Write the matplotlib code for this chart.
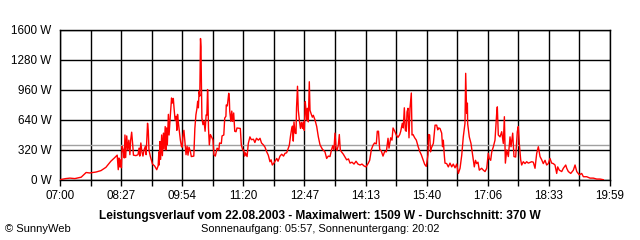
import numpy as np
import matplotlib
matplotlib.use("Agg")
import matplotlib.pyplot as plt

plt.rcParams['font.family'] = ['Liberation Sans', 'DejaVu Sans']

# minutes after 07:00
minutes = [1, 8, 14, 21, 30, 37, 42, 51, 58, 65,
           72, 77, 81, 82.5, 83.5, 84.5, 85.5, 87, 88, 89.5,
           91, 92, 93, 94.5, 96, 97.5, 99, 100, 101.5, 103,
           104, 107.5, 110.5, 112, 113, 114.5, 116, 117.5, 119, 121,
           122, 124, 125, 126, 128, 131, 134, 137, 139, 140,
           140.5, 141.5, 142.5, 144, 145, 146.5, 147.5, 149, 150, 151,
           152, 153.5, 154.5, 156, 158, 159, 160.5, 161.5, 163, 164.5,
           165.5, 166.5, 167.5, 169, 170.5, 172, 173, 174, 175.5, 177,
           178.5, 180, 181.3, 182.7, 184.5, 186, 189.5, 191, 192.5, 194,
           195, 196, 197, 198, 199, 199.7, 200.2, 201, 202.5, 204,
           205.5, 207, 208, 209, 209.6, 210.3, 211.5, 213, 215.3, 216.7,
           218, 220, 222.5, 225, 226, 228.5, 229.5, 232, 233.3, 235,
           235.5, 237, 239, 239.8, 240.4, 242, 243.3, 244.5, 246, 247.5,
           249.3, 250.7, 255.4, 256.8, 258.8, 260.2, 261.5, 262.7, 265, 266.7,
           269, 271, 274, 276, 278.3, 281, 283.3, 285.4, 288, 290.4,
           292.8, 295, 297.4, 299, 300.7, 303, 307, 308.8, 311.6, 314,
           316.6, 318.7, 321, 323.4, 324.8, 326.5, 328.2, 329.3, 330.4, 331.4,
           333, 334.3, 335, 336.4, 337.5, 339, 340.6, 342, 343.5, 344.6,
           346, 347.4, 348.4, 349.4, 350.3, 351.7, 353.1, 354.1, 355.5, 357.4,
           358.8, 361.2, 363.6, 365.9, 368.3, 371.5, 375.3, 377.7, 380, 382.4,
           384.5, 386.3, 388, 389.5, 391, 392.3, 394.2, 395.6, 397, 398.7,
           401.3, 403.7, 406, 408.6, 410.8, 413.6, 416.4, 419.3, 422, 425,
           427.7, 430.6, 433.4, 436.7, 438.6, 441, 443.3, 445.5, 448, 449.4,
           451.1, 452.8, 455, 457.5, 459.9, 462.2, 464.6, 466, 468.4, 470.2,
           471.7, 474.1, 476.3, 478.7, 481.2, 482.6, 484.8, 486.2, 487.7, 489.1,
           490.5, 491.5, 492.9, 494.3, 495.7, 497.6, 498.6, 500, 502.4, 504.7,
           507.1, 509.5, 511.7, 514.2, 516.6, 518.8, 521.2, 522, 523.6, 524.8,
           525.9, 528.8, 531.2, 533.5, 535, 536.1, 538.2, 540.6, 541.8, 542.9,
           544.3, 545.3, 547.7, 550, 552.4, 554.8, 557, 559.5, 561.9, 564.2,
           566.6, 569, 571.2, 573.6, 574.6, 575.5, 576, 577, 577.4, 579.7,
           582.1, 584.5, 586.8, 588.5, 590.2, 592, 593.9, 597.2, 599.6, 602,
           604.4, 606.6, 608, 610, 611.5, 613.8, 616.1, 618.5, 619.4, 620.8,
           623.2, 625.6, 627.9, 629.4, 630.8, 632.7, 635, 637.4, 638.8, 641.2,
           643, 645.4, 647.7, 649.1, 650.5, 652.5, 653.9, 656.2, 658.6, 661,
           663.3, 668.1, 670.4, 672.8, 675.2, 677.5, 679.9, 682.3, 684.5, 687,
           689.3, 691.6, 694, 696.4, 698.7, 701.1, 703.5, 704.9, 707.2, 710.6,
           712.9, 716.3, 717.7, 720, 723.4, 727.1, 729.5, 731.9, 735.5, 738.9,
           741.3, 746, 750.7, 755.4, 760.2, 764.9, 769.5]

watts = [5, 15, 20, 15, 30, 80, 75, 85, 100, 135,
         200, 235, 265, 110, 235, 140, 215, 130, 360, 320,
         235, 480, 240, 470, 320, 425, 270, 420, 510, 375,
         265, 260, 270, 340, 255, 395, 300, 255, 320, 360,
         270, 605, 530, 320, 250, 170, 150, 110, 150, 300,
         160, 410, 220, 480, 260, 500, 330, 570, 320, 555,
         375, 700, 480, 660, 875, 820, 870, 770, 640, 680,
         530, 700, 620, 520, 425, 360, 350, 460, 530, 400,
         270, 360, 265, 350, 310, 250, 255, 550, 695, 765,
         840, 770, 945, 895, 1509, 1420, 1085, 660, 590, 630,
         520, 695, 690, 965, 850, 555, 375, 485, 450, 425,
         270, 255, 340, 320, 395, 390, 470, 480, 660, 680,
         800, 790, 925, 875, 735, 625, 735, 625, 715, 520,
         515, 555, 550, 375, 320, 320, 255, 290, 250, 390,
         460, 430, 435, 400, 445, 425, 445, 395, 375, 350,
         300, 265, 195, 215, 160, 180, 230, 200, 255, 275,
         255, 285, 290, 340, 370, 470, 550, 575, 415, 620,
         500, 495, 770, 1000, 745, 640, 550, 615, 550, 620,
         530, 835, 745, 640, 765, 620, 1048, 745, 710, 670,
         690, 640, 570, 460, 375, 330, 300, 230, 255, 250,
         320, 365, 320, 500, 340, 315, 370, 485, 320, 300,
         275, 245, 215, 225, 180, 190, 170, 200, 170, 160,
         170, 150, 140, 180, 210, 325, 370, 395, 385, 520,
         520, 325, 310, 255, 305, 300, 445, 340, 450, 425,
         555, 520, 480, 455, 485, 520, 605, 555, 770, 530,
         520, 725, 765, 450, 765, 928, 480, 485, 450, 425,
         360, 305, 270, 215, 165, 145, 270, 485, 480, 300,
         340, 390, 585, 585, 535, 555, 550, 500, 355, 425,
         265, 180, 175, 140, 180, 140, 170, 130, 170, 70,
         125, 265, 460, 605, 1138, 850, 710, 820, 600, 460,
         390, 265, 140, 210, 175, 190, 105, 125, 105, 90,
         125, 285, 230, 210, 300, 355, 425, 710, 780, 480,
         460, 515, 390, 675, 180, 320, 250, 460, 355, 500,
         250, 245, 515, 570, 390, 215, 160, 195, 175, 195,
         180, 195, 190, 125, 285, 355, 250, 215, 175, 210,
         160, 175, 230, 180, 175, 160, 70, 140, 105, 90,
         125, 160, 125, 90, 70, 105, 160, 90, 55, 70,
         35, 35, 20, 20, 10, 10, 3]

assert len(minutes) == len(watts)

average_w = 370
span_minutes = 779  # 07:00 .. 19:59
time_labels = ['07:00', '08:27', '09:54', '11:20', '12:47',
               '14:13', '15:40', '17:06', '18:33', '19:59']
power_ticks = [0, 320, 640, 960, 1280, 1600]
power_labels = ['0 W', '320 W', '640 W', '960 W', '1280 W', '1600 W']

title = "Leistungsverlauf vom 22.08.2003 - Maximalwert: 1509 W - Durchschnitt: 370 W"
subtitle = "Sonnenaufgang: 05:57, Sonnenuntergang: 20:02"
credit = "\u00a9 SunnyWeb"

fig = plt.figure(figsize=(6.4, 2.4), dpi=100)
ax = fig.add_axes([60 / 640, 60 / 240, 550 / 640, 150 / 240])

ax.plot(minutes, watts, color='#ff0000', lw=1.0, zorder=3)
ax.axhline(average_w, color='#a0a0a0', lw=1.0, zorder=2)

ax.set_xlim(0, span_minutes)
ax.set_ylim(0, 1600)

xticks = np.linspace(0, span_minutes, 2 * (len(time_labels) - 1) + 1)
xlabels = [''] * len(xticks)
xlabels[::2] = time_labels
ax.set_xticks(xticks)
ax.set_xticklabels(xlabels)
ax.set_yticks(power_ticks)
ax.set_yticklabels(power_labels)

ax.grid(True, color='black', lw=1.0, zorder=1)
ax.set_axisbelow(True)
for s in ax.spines.values():
    s.set_color('black')
    s.set_linewidth(1.0)

ax.tick_params(axis='x', length=4, width=1, direction='out', pad=3,
               labelsize=8.4, colors='black')
ax.tick_params(axis='y', length=0, pad=6, labelsize=8.4, colors='black')

fig.text(0.5, 1 - 216.5 / 240, title, ha='center', va='center',
         fontsize=8.6, fontweight='bold')
fig.text(0.5, 1 - 229.5 / 240, subtitle, ha='center', va='center', fontsize=7.9)
fig.text(5 / 640, 1 - 229.5 / 240, credit, ha='left', va='center', fontsize=8)

fig.savefig('out.png', dpi=100, facecolor='white')
